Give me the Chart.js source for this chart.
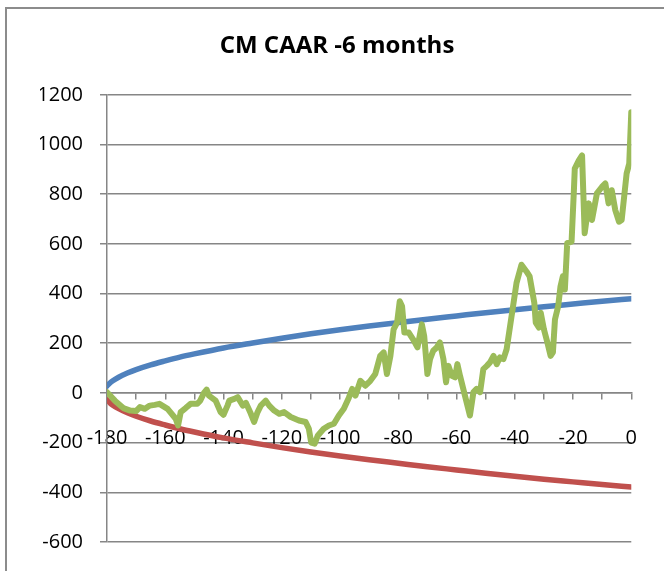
<!DOCTYPE html>
<html>
<head>
<meta charset="utf-8">
<script src="https://cdn.jsdelivr.net/npm/chart.js@4.4.1/dist/chart.umd.min.js"></script>
<style>
  html, body { margin: 0; padding: 0; background: #fff; }
  #wrap { position: relative; width: 664px; height: 571px; }
</style>
</head>
<body>
<div id="wrap"><canvas id="chart"></canvas></div>
<script>
// CM CAAR -6 months
const chartTitle = "CM CAAR -6 months";

// upper / lower band (days before event)
const bandDays = [-180, -179, -178, -176, -173, -170, -165, -160, -155, -150, -140, -130, -120,
                  -110, -100, -90, -80, -70, -60, -50, -40, -30, -20, -10, 0];
const upperBand = [28, 40, 49, 63, 80, 94, 113, 129, 144, 157, 181, 201, 220,
                   238, 254, 269, 283, 297, 310, 323, 335, 347, 358, 369, 379];
const lowerBand = [-28, -40, -49, -63, -80, -94, -113, -129, -144, -157, -181, -201, -220,
                   -238, -254, -269, -283, -297, -310, -323, -335, -347, -358, -369, -379];

// CAAR series
const caarDays = [-180, -177.3, -174.4, -172, -170, -168.7, -167, -165.3, -163.6, -162, -159.2,
  -156.4, -155.6, -154.7, -153, -151.3, -149, -148, -146.7, -145.8, -145, -142.7, -141, -140,
  -138.6, -138, -136.3, -135.1, -133.4, -132.3, -130.6, -129.5, -128.3, -127.2, -125.5, -124.3,
  -122.6, -120.9, -119.2, -116.9, -114.1, -111.8, -110.7, -109.9, -108.7, -107.6, -105.6, -103.8,
  -102.1, -100.4, -98.7, -97, -95.8, -94.7, -93, -91.3, -89.6, -87.9, -86.2, -85, -83.9, -82.7,
  -81.6, -80.4, -79.5, -78.7, -77.9, -76.4, -74.7, -73.4, -71.9, -71.1, -70, -69.1, -68, -66.8,
  -65.7, -64.5, -63.6, -62.8, -61.6, -60.5, -59.7, -58.8, -57.1, -55.4, -54.2, -53.1, -51.9,
  -50.8, -49.6, -48.5, -47.3, -46.2, -45.1, -43.9, -42.8, -41.1, -39.4, -37.7, -36, -34.9,
  -33.3, -32.8, -31.7, -31.1, -30, -28.8, -27.7, -26.9, -26.2, -25.1, -24.3, -23.5, -22.8, -22,
  -20.5, -19.7, -19.4, -18, -16.9, -16, -14.6, -13.5, -11.8, -10.1, -8.9, -7.8, -6.7, -5.5,
  -4.2, -3.3, -1.6, -0.7, 0];
const caarValues = [3, -31, -61, -71, -73, -57, -64, -51, -48, -44, -64,
  -104, -131, -77, -61, -44, -44, -31, 0, 13, -11, -31, -77, -88,
  -50, -31, -24, -17, -51, -40, -84, -117, -77, -51, -31, -51,
  -71, -84, -77, -97, -111, -117, -144, -200, -204, -171, -144, -131,
  -124, -91, -64, -20, 16, -11, 49, 29, 49, 76, 149, 163, 76, 149,
  256, 283, 369, 349, 243, 243, 212, 183, 276, 229, 76, 136, 170, 183,
  203, 136, 43, 109, 69, 63, 116, 69, -11, -91, 3, 16, 3,
  96, 109, 123, 149, 116, 143, 136, 176, 309, 443, 516, 489, 469,
  363, 283, 263, 323, 256, 203, 149, 163, 296, 349, 429, 469, 416, 603,
  609, 816, 903, 936, 956, 643, 763, 696, 803, 829, 843, 763, 816, 736,
  689, 696, 883, 923, 1130];

const yMin = -600, yMax = 1200, yStep = 200;
const xMin = -180, xMax = 0, xStep = 10;

const pts = (xs, ys) => xs.map((x, i) => ({ x: x, y: ys[i] }));

// gray frame round the chart (left and top edges show in the picture)
const framePlugin = {
  id: "frame",
  beforeDraw(chart) {
    const c = chart.ctx;
    c.save();
    c.strokeStyle = "#8c8c8c";
    c.lineWidth = 2;
    c.strokeRect(6, 8, 720, 620);
    c.restore();
  }
};

const gridColor = "#868686";
const tickFont = { family: "'Open Sans', sans-serif", size: 20 };

new Chart(document.getElementById("chart"), {
  type: "line",
  data: {
    datasets: [
      { label: "CAAR", data: pts(caarDays, caarValues), borderColor: "#9bbb59",
        borderWidth: 6, pointRadius: 0, tension: 0, borderJoinStyle: "round",
        borderCapStyle: "round", order: 0 },
      { label: "Upper", data: pts(bandDays, upperBand), borderColor: "#4f81bd",
        borderWidth: 5.5, pointRadius: 0, cubicInterpolationMode: "monotone",
        borderCapStyle: "round", order: 2 },
      { label: "Lower", data: pts(bandDays, lowerBand), borderColor: "#c0504d",
        borderWidth: 5.5, pointRadius: 0, cubicInterpolationMode: "monotone",
        borderCapStyle: "round", order: 1 }
    ]
  },
  options: {
    responsive: true,
    maintainAspectRatio: false,
    animation: false,
    layout: { padding: { left: 40, right: 30, top: 8, bottom: 18 } },
    plugins: {
      legend: { display: false },
      tooltip: { enabled: false },
      title: {
        display: true, text: chartTitle, color: "#000",
        font: { family: "'Open Sans', sans-serif", size: 24, weight: "bold", lineHeight: 1.2 },
        padding: { top: 24, bottom: 34 }
      }
    },
    scales: {
      x: {
        type: "linear", min: xMin, max: xMax,
        position: { y: 0 },
        grid: { drawOnChartArea: false, drawTicks: true, tickLength: 6, color: gridColor, lineWidth: 1.5 },
        border: { display: true, color: gridColor, width: 1.5 },
        ticks: {
          stepSize: xStep, autoSkip: false, maxRotation: 0, padding: 27,
          color: "#000", font: tickFont,
          callback: v => (v % 20 === 0 ? String(v) : "")
        }
      },
      y: {
        min: yMin, max: yMax,
        grid: { color: gridColor, lineWidth: 1.5, tickLength: 7 },
        border: { display: true, color: gridColor, width: 1.5 },
        ticks: { stepSize: yStep, padding: 17, color: "#000", font: tickFont,
                 callback: v => String(v) },
        afterFit: s => { s.width = 67; }
      }
    }
  },
  plugins: [framePlugin]
});
</script>
</body>
</html>
